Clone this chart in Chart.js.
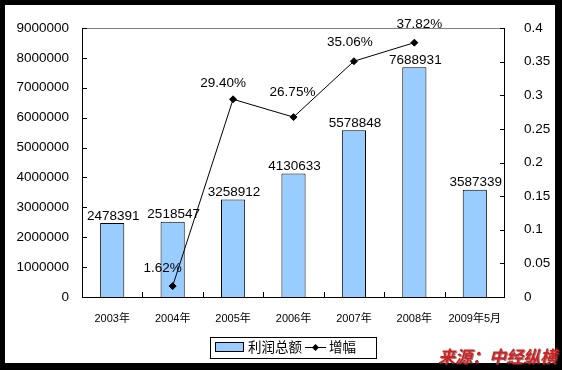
<!DOCTYPE html>
<html>
<head>
<meta charset="utf-8">
<style>
  html, body { margin: 0; padding: 0; background: #000; }
  #wrap { width: 562px; height: 370px; position: relative; }
</style>
<script src="https://cdn.jsdelivr.net/npm/chart.js@4/dist/chart.umd.min.js"></script>
</head>
<body>
<div id="wrap"><canvas id="profitChart"></canvas></div>
<script>
// Data
const years = ['2003年', '2004年', '2005年', '2006年', '2007年', '2008年', '2009年5月'];
const profit = [2478391, 2518547, 3258912, 4130633, 5578848, 7688931, 3587339];
const growth = [null, 0.0162, 0.2940, 0.2675, 0.3506, 0.3782, null];
const leftTicks = [0, 1000000, 2000000, 3000000, 4000000, 5000000, 6000000, 7000000, 8000000, 9000000];
const rightTicks = [0, 0.05, 0.1, 0.15, 0.2, 0.25, 0.3, 0.35, 0.4];

// label nudges for the % values (px, relative to the point)
const pctShift = [null, [-10, -18], [-10, -16], [-1, -25], [-4, -19], [5, -18], null];

const FONT = '"Liberation Sans", Arial, "Noto Sans CJK SC", sans-serif';
const CJK = '"Liberation Sans", "Noto Sans CJK SC", sans-serif';

// Frame, plot border, ticks, labels, legend, watermark
const decor = {
    id: 'decor',
    beforeDraw(chart) {
        const { ctx, width, height } = chart;
        ctx.save();
        ctx.fillStyle = '#000';
        ctx.fillRect(0, 0, width, height);
        ctx.fillStyle = '#fff';
        ctx.fillRect(5, 5, 550, 358);
        ctx.restore();
    },
    afterDatasetsDraw(chart) {
        const { ctx, chartArea: a, scales } = chart;
        ctx.save();
        // top border
        ctx.strokeStyle = '#808080';
        ctx.lineWidth = 1;
        ctx.beginPath();
        ctx.moveTo(a.left, a.top + 0.5);
        ctx.lineTo(a.right, a.top + 0.5);
        ctx.stroke();
        // axes
        ctx.strokeStyle = '#000';
        ctx.beginPath();
        ctx.moveTo(a.left + 0.5, a.top);
        ctx.lineTo(a.left + 0.5, a.bottom + 0.5);
        ctx.lineTo(a.right - 0.5, a.bottom + 0.5);
        ctx.lineTo(a.right - 0.5, a.top);
        ctx.stroke();
        // inward tick marks
        ctx.beginPath();
        leftTicks.forEach(v => {
            const y = Math.round(scales.y.getPixelForValue(v)) + 0.5;
            ctx.moveTo(a.left, y);
            ctx.lineTo(a.left + 5, y);
        });
        rightTicks.forEach(v => {
            const y = Math.round(scales.y2.getPixelForValue(v)) + 0.5;
            ctx.moveTo(a.right, y);
            ctx.lineTo(a.right - 5, y);
        });
        const step = scales.x.getPixelForValue(1) - scales.x.getPixelForValue(0);
        for (let i = 1; i < years.length; i++) {
            const x = Math.round(scales.x.getPixelForValue(i) - step / 2) + 0.5;
            ctx.moveTo(x, a.bottom);
            ctx.lineTo(x, a.bottom - 5);
        }
        ctx.stroke();

        // value labels
        ctx.fillStyle = '#000';
        ctx.font = '13.5px ' + FONT;
        ctx.textAlign = 'center';
        ctx.textBaseline = 'middle';
        chart.getDatasetMeta(0).data.forEach((bar, i) => {
            ctx.fillText(String(profit[i]), bar.x + 1, bar.y - 7);
        });
        chart.getDatasetMeta(1).data.forEach((pt, i) => {
            if (growth[i] == null) return;
            const s = pctShift[i];
            ctx.fillText((growth[i] * 100).toFixed(2) + '%', pt.x + s[0], pt.y + s[1]);
        });

        // legend
        const ds = chart.data.datasets;
        ctx.lineWidth = 1;
        ctx.strokeRect(210.5, 337.5, 166, 21);
        ctx.fillStyle = '#99CCFF';
        ctx.fillRect(215.5, 342.5, 28, 9);
        ctx.strokeRect(215.5, 342.5, 28, 9);
        ctx.fillStyle = '#000';
        ctx.textAlign = 'left';
        ctx.font = '13.5px ' + CJK;
        ctx.fillText(ds[0].label, 248, 348);
        ctx.beginPath();
        ctx.moveTo(305, 347.5);
        ctx.lineTo(326, 347.5);
        ctx.stroke();
        ctx.beginPath();
        ctx.moveTo(315.5, 344);
        ctx.lineTo(319, 347.5);
        ctx.lineTo(315.5, 351);
        ctx.lineTo(312, 347.5);
        ctx.closePath();
        ctx.fill();
        ctx.fillText(ds[1].label, 329, 348);

        // watermark
        ctx.font = 'italic bold 17px "Noto Sans CJK SC", sans-serif';
        ctx.shadowColor = 'rgba(60,60,60,0.6)';
        ctx.shadowOffsetX = 1;
        ctx.shadowOffsetY = 1;
        ctx.fillStyle = '#d42020';
        ctx.fillText('来源：中经纵横', 438, 357);
        ctx.restore();
    }
};

new Chart(document.getElementById('profitChart'), {
    data: {
        labels: years,
        datasets: [
            {
                type: 'bar',
                label: '利润总额',
                data: profit,
                yAxisID: 'y',
                backgroundColor: '#99CCFF',
                borderColor: '#000',
                borderWidth: 1,
                borderSkipped: 'bottom',
                categoryPercentage: 1,
                barPercentage: 0.4,
                order: 2
            },
            {
                type: 'line',
                label: '增幅',
                data: growth,
                yAxisID: 'y2',
                borderColor: '#000',
                borderWidth: 1,
                pointStyle: 'rectRot',
                pointRadius: 3.5,
                pointBackgroundColor: '#000',
                pointBorderColor: '#000',
                tension: 0,
                order: 1
            }
        ]
    },
    options: {
        responsive: true,
        maintainAspectRatio: false,
        animation: false,
        layout: { padding: { top: 28, left: 0, right: 0, bottom: 0 } },
        plugins: {
            legend: { display: false },
            tooltip: { enabled: false }
        },
        scales: {
            x: {
                grid: { display: false },
                border: { display: false },
                ticks: {
                    color: '#000',
                    font: { size: 11, family: CJK },
                    maxRotation: 0,
                    autoSkip: false,
                    padding: 7
                },
                afterFit: s => { s.height = 73; }
            },
            y: {
                position: 'left',
                min: 0,
                max: 9000000,
                grid: { display: false },
                border: { display: false },
                ticks: {
                    stepSize: 1000000,
                    autoSkip: false,
                    color: '#000',
                    font: { size: 13.5, family: FONT },
                    padding: 5,
                    callback: v => String(v)
                },
                afterFit: s => { s.width = 82; }
            },
            y2: {
                position: 'right',
                min: 0,
                max: 0.4,
                grid: { display: false },
                border: { display: false },
                ticks: {
                    stepSize: 0.05,
                    autoSkip: false,
                    color: '#000',
                    font: { size: 13.5, family: FONT },
                    padding: 11,
                    callback: v => String(Number(v.toFixed(2)))
                },
                afterFit: s => { s.width = 57; }
            }
        }
    },
    plugins: [decor]
});
</script>
</body>
</html>
